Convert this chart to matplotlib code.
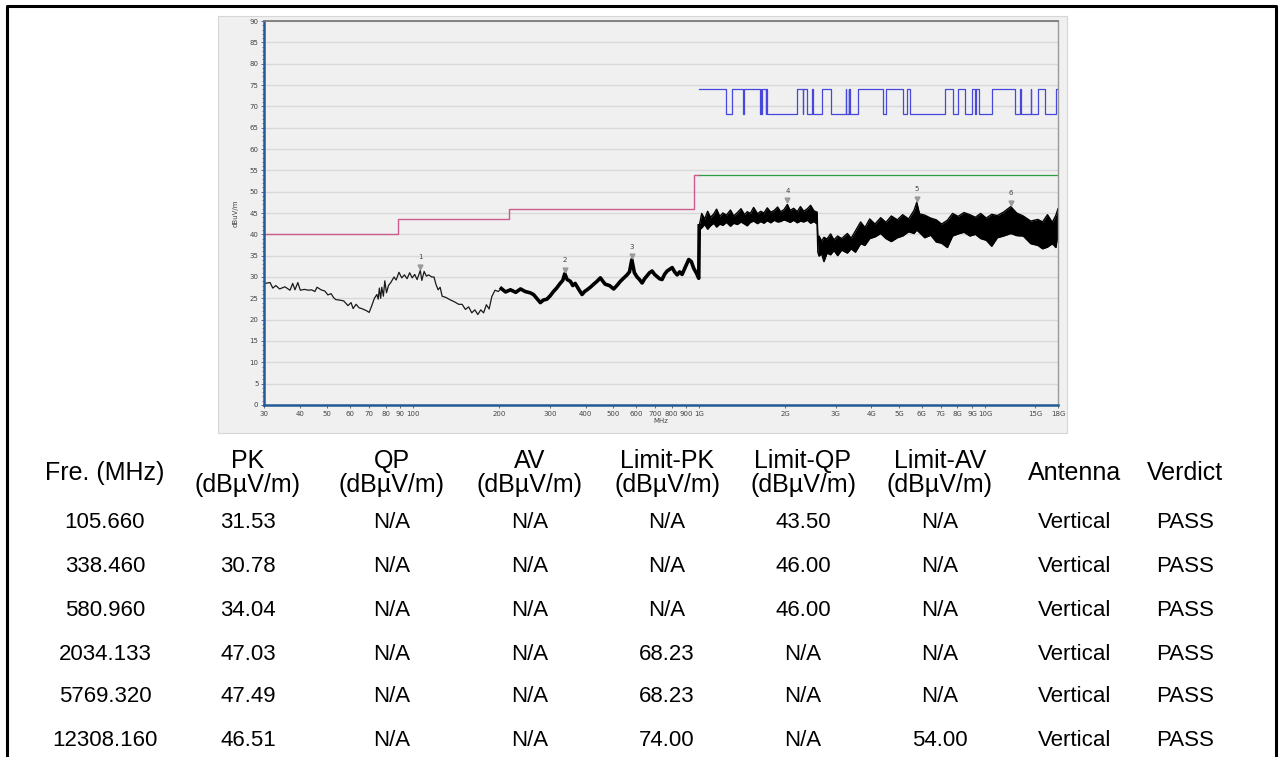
import matplotlib.pyplot as plt
from matplotlib.lines import Line2D
from matplotlib.patches import Rectangle

plt.rcParams['font.family'] = ['Liberation Sans', 'DejaVu Sans']

# --- measured trace below 1 GHz (MHz, dBuV/m)
lo_f = [30.2, 31.5, 32.2, 33.0, 34.0, 35.5, 37.0, 37.8, 38.5, 39.4, 40.2, 41.5, 43.0, 44.0,
        45.2, 46.0, 47.5, 49.0, 50.2, 51.5, 52.5, 53.5, 55.0, 57.0, 59.0, 60.5, 61.5, 63.0,
        64.5, 66.5, 68.5, 70.0, 71.5, 73.0, 74.5, 75.3, 76.0, 76.8, 77.5, 78.5, 79.4, 80.5,
        81.8, 83.5, 85.5, 87.0, 89.0, 91.0, 93.0, 95.0, 97.0, 99.0, 101.0, 103.0, 105.66,
        107.0, 109.0, 111.0, 113.0, 116.0, 118.0, 120.0, 122.0, 124.0, 126.0, 130.0, 134.0,
        139.0, 144.0, 148.0, 152.0, 156.0, 160.0, 164.0, 168.0, 172.0, 176.0, 180.0, 184.0,
        188.0, 193.0, 198.0, 203.0, 210.0, 218.5, 228.0, 237.0, 246.0, 256.0, 263.0, 270.0,
        278.0, 285.0, 293.0, 301.0, 309.0, 317.0, 326.0, 333.0, 338.46, 345.0, 354.0, 361.0,
        368.0, 378.0, 389.0, 397.0, 405.0, 416.0, 427.0, 439.0, 451.0, 460.0, 469.0, 485.0,
        502.0, 515.0, 530.0, 545.0, 559.0, 570.0, 580.96, 593.0, 606.0, 618.0, 631.0, 644.0,
        657.0, 670.0, 684.0, 698.0, 712.0, 726.0, 741.0, 756.0, 772.0, 788.0, 804.0, 820.0,
        837.0, 854.0, 871.0, 895.0, 919.0, 938.0, 957.0, 976.0, 996.0, 1000.0]
lo_v = [28.5, 28.7, 27.4, 28.0, 27.2, 27.7, 26.9, 28.5, 27.0, 28.7, 26.9, 27.1, 26.9, 27.0,
        26.6, 27.6, 27.0, 26.7, 25.8, 26.1, 25.2, 24.7, 24.6, 24.4, 23.3, 24.0, 22.6, 23.6,
        22.8, 22.5, 22.1, 21.7, 23.3, 25.0, 25.9, 24.8, 27.4, 25.0, 27.6, 25.5, 29.1, 26.3,
        28.0, 28.8, 30.0, 29.3, 31.1, 29.8, 30.5, 29.6, 31.0, 29.8, 30.6, 29.4, 31.53,
        29.2, 31.3, 30.2, 30.5, 30.0, 30.0, 28.2, 27.0, 27.6, 25.5, 25.2, 24.7,
        24.2, 23.6, 23.6, 22.4, 23.0, 21.6, 22.3, 21.2, 22.3, 21.6, 23.5, 22.5,
        25.4, 26.9, 26.6, 27.3, 26.5, 27.0, 26.4, 27.2, 26.6, 26.3, 25.9, 25.0,
        24.0, 24.6, 24.8, 25.6, 26.6, 27.4, 28.5, 29.2, 30.78, 29.4, 29.0, 28.0,
        28.5, 27.2, 25.9, 26.6, 27.0, 27.6, 28.3, 29.0, 29.8, 29.0, 28.3, 28.0,
        27.2, 28.0, 29.0, 29.8, 30.5, 31.2, 34.04, 31.0, 30.0, 29.4, 28.6, 29.6,
        30.3, 31.0, 31.4, 30.6, 30.1, 29.6, 29.4, 30.6, 31.4, 31.8, 32.2, 31.2,
        30.5, 31.2, 30.6, 32.4, 34.1, 33.6, 32.0, 31.0, 29.7, 42.0]

# --- measured trace above 1 GHz: envelope of the noise band
band_f = [1000, 1020, 1045, 1070, 1095, 1125, 1150, 1180, 1210, 1245, 1286, 1320, 1360, 1400,
          1440, 1472, 1510, 1550, 1600, 1640, 1684, 1730, 1780, 1830, 1880, 1926, 1980, 2034,
          2080, 2140, 2203, 2260, 2320, 2390, 2452, 2520, 2585, 2600, 2626, 2680, 2731, 2800,
          2881, 2960, 3050, 3150, 3298, 3400, 3520, 3670, 3800, 3950, 4120, 4314, 4500, 4700,
          4933, 5150, 5400, 5643, 5769, 5900, 6150, 6456, 6750, 7050, 7383, 7700, 8050, 8440,
          8850, 9250, 9655, 10100, 10550, 11043, 11600, 12308, 12900, 13600, 14455, 15300,
          15900, 16537, 17200, 17700, 18000]
band_hi = [42.0, 44.9, 43.6, 45.4, 44.0, 44.8, 45.9, 44.2, 45.0, 44.5, 45.7, 44.3, 45.1, 46.0,
           44.6, 45.3, 44.9, 46.3, 44.8, 45.4, 45.0, 46.2, 45.2, 45.6, 46.4, 45.3, 45.8, 47.0,
           45.6, 46.1, 45.3, 46.5, 45.4, 46.0, 46.8, 45.5, 45.2, 39.0, 39.6, 38.4, 39.3, 38.9,
           40.1, 38.7, 39.6, 39.0, 40.2, 39.1, 40.8, 42.9, 41.6, 43.6, 42.4, 43.9, 42.8, 44.3,
           43.4, 44.6, 43.6, 45.6, 47.5, 44.8, 44.5, 43.8, 43.4, 42.4, 43.3, 44.9, 44.2, 45.1,
           44.6, 44.0, 44.9, 43.8, 44.7, 44.4, 45.2, 46.5, 45.0, 44.3, 43.1, 43.5,
           42.9, 44.6, 42.8, 44.5, 46.0]
band_lo = [41.0, 41.5, 42.3, 41.2, 42.0, 42.6, 41.7, 42.4, 42.1, 42.8, 41.9, 42.6, 42.3, 42.9,
           42.4, 42.0, 42.8, 43.1, 42.5, 43.0, 42.6, 43.2, 42.7, 43.3, 42.9, 43.0, 43.4, 43.1,
           42.8, 43.3, 42.7, 43.1, 42.9, 43.3, 42.6, 43.0, 42.4, 35.8, 34.9, 35.4, 33.6, 35.6,
           35.2, 36.2, 35.0, 36.3, 35.6, 36.6, 35.8, 37.8, 37.4, 39.0, 39.4, 40.2, 39.0, 38.3,
           39.2, 39.6, 40.6, 40.2, 41.0, 40.4, 39.2, 39.8, 38.2, 37.9, 36.9, 39.6, 40.1, 40.5,
           39.6, 40.0, 39.0, 38.6, 37.2, 39.2, 39.6, 40.2, 39.7, 39.6, 37.8, 37.4,
           36.6, 37.0, 37.8, 36.9, 40.0]

# --- limits
qp_edges = [30, 88, 216, 960, 1000]
qp_levels = [40, 43.5, 46, 54]
av_edges = [1000, 18000]
av_levels = [54]
pk_edges = [1000, 1240, 1300, 1427, 1435, 1626.5, 1645.5, 1646.5, 1660, 1710, 1718.8, 1722.2,
            2200, 2300, 2310, 2390, 2483.5, 2500, 2690, 2900, 3260, 3267, 3332, 3339, 3345.8,
            3358, 3600, 4400, 4500, 5150, 5350, 5460, 7250, 7750, 8025, 8500, 9000, 9200,
            9300, 9500, 10600, 12700, 13250, 13400, 14470, 14500, 15350, 16200, 17700, 18000]
pk_levels = [74, 68.23, 74, 68.23, 74, 68.23, 74, 68.23, 74, 68.23, 74, 68.23,
             74, 68.23, 74, 68.23, 74, 68.23, 74, 68.23, 74, 68.23, 74, 68.23, 74,
             68.23, 74, 68.23, 74, 68.23, 74, 68.23, 74, 68.23, 74, 68.23, 74, 68.23,
             74, 68.23, 74, 68.23, 74, 68.23, 74, 68.23, 74, 68.23, 74]

# --- peaks
peak_f = [105.66, 338.46, 580.96, 2034.133, 5769.32, 12308.16]
peak_v = [31.53, 30.78, 34.04, 47.03, 47.49, 46.51]

# --- axis ticks
xtick_vals = [30, 40, 50, 60, 70, 80, 90, 100, 200, 300, 400, 500, 600, 700, 800, 900, 1000,
              2000, 3000, 4000, 5000, 6000, 7000, 8000, 9000, 10000, 15000, 18000]
xtick_labels = ['30', '40', '50', '60', '70', '80', '90', '100', '200', '300', '400', '500',
                '600', '700', '800', '900', '1G', '2G', '3G', '4G', '5G', '6G', '7G', '8G',
                '9G', '10G', '15G', '18G']

# --- result table
headers = ['Fre. (MHz)', 'PK\n(dBµV/m)', 'QP\n(dBµV/m)', 'AV\n(dBµV/m)', 'Limit-PK\n(dBµV/m)',
           'Limit-QP\n(dBµV/m)', 'Limit-AV\n(dBµV/m)', 'Antenna', 'Verdict']
col_fre = ['105.660', '338.460', '580.960', '2034.133', '5769.320', '12308.160']
col_pk = ['31.53', '30.78', '34.04', '47.03', '47.49', '46.51']
col_qp = ['N/A'] * 6
col_av = ['N/A'] * 6
col_lpk = ['N/A', 'N/A', 'N/A', '68.23', '68.23', '74.00']
col_lqp = ['43.50', '46.00', '46.00', 'N/A', 'N/A', 'N/A']
col_lav = ['N/A', 'N/A', 'N/A', 'N/A', 'N/A', '54.00']
col_ant = ['Vertical'] * 6
col_ver = ['PASS'] * 6

W, H = 1283, 757
fig = plt.figure(figsize=(W / 100, H / 100), dpi=100)
fig.patch.set_facecolor('white')

# grey panel behind the plot
fig.patches.append(Rectangle((218 / W, 1 - 433 / H), 849 / W, 417 / H, transform=fig.transFigure,
                             facecolor='#f0f0f0', edgecolor='#d6d6d6', lw=0.8, zorder=-5))
# outer frame
fig.lines.append(Line2D([7 / W, 7 / W, 1276 / W, 1276 / W], [0, 1 - 5.5 / H, 1 - 5.5 / H, 0],
                        transform=fig.transFigure, color='black', lw=2.2))

ax = fig.add_axes([264 / W, 1 - 405 / H, (1058 - 264) / W, (405 - 21) / H])
ax.set_zorder(2)
ax.set_axisbelow(True)
ax.set_facecolor('#f0f0f0')
ax.set_xscale('log')
ax.set_xlim(30, 18000)
ax.set_ylim(0, 90)

ax.set_yticks(range(0, 91, 5))
ax.set_yticks(range(0, 91, 1), minor=True)
ax.grid(True, axis='y', which='major', color='#d9d9d9', lw=1.0)
ax.set_xticks(xtick_vals)
ax.set_xticklabels(xtick_labels)
ax.xaxis.set_minor_locator(plt.NullLocator())
ax.tick_params(axis='both', labelsize=5, labelcolor='#444444', color='#555555', length=2.5,
               width=0.6, pad=1.5)
ax.tick_params(axis='y', which='minor', length=1.5, width=0.5, color='#2a5d98')
ax.tick_params(axis='y', which='major', color='#2a5d98')

for s in ['left', 'bottom']:
    ax.spines[s].set_color('#245a96')
    ax.spines[s].set_linewidth(1.8)
ax.spines['top'].set_color('#7a7a7a')
ax.spines['top'].set_linewidth(1.3)
ax.spines['right'].set_color('#9a9a9a')
ax.spines['right'].set_linewidth(1.0)

# limit lines
ax.step(qp_edges, qp_levels + [qp_levels[-1]], where='post', color='#cc5c8e', lw=1.0)
ax.step(av_edges, av_levels + [av_levels[-1]], where='post', color='#2e9e3e', lw=0.9)
ax.step(pk_edges, pk_levels + [pk_levels[-1]], where='post', color='#4848dc', lw=0.9)

# trace
ax.plot(lo_f, lo_v, color='#1a1a1a', lw=0.9)
hi_part = [i for i, f in enumerate(lo_f) if f >= 200]
ax.plot([lo_f[i] for i in hi_part], [lo_v[i] for i in hi_part], color='black', lw=2.6)
ax.fill_between(band_f, band_lo, band_hi, color='black', lw=0)
ax.plot(band_f, band_hi, color='black', lw=1.0)
ax.plot(band_f, band_lo, color='black', lw=1.0)

# peak markers
for i, (f, v) in enumerate(zip(peak_f, peak_v)):
    ax.plot(f, v + 0.9, marker='v', ms=3.5, color='#9a9a9a', mec='#9a9a9a')
    ax.text(f, v + 2.4, str(i + 1), fontsize=5, color='#444444', ha='center', va='bottom',
            family='DejaVu Sans')

ax.set_ylabel('dBuV/m', fontsize=5, color='#444444', labelpad=8, family='DejaVu Sans')
ax.set_xlabel('MHz', fontsize=5, color='#444444', labelpad=1, family='DejaVu Sans')
for lab in ax.get_xticklabels() + ax.get_yticklabels():
    lab.set_family('DejaVu Sans')

# table
col_x = [105, 248, 392, 530, 667, 803, 940, 1075, 1185]
columns = [col_fre, col_pk, col_qp, col_av, col_lpk, col_lqp, col_lav, col_ant, col_ver]
for x, h in zip(col_x, headers):
    fig.text(x / W, 1 - 473 / H, h, ha='center', va='center', fontsize=18, linespacing=1.05)
row_y = [523, 566, 610, 654, 697, 740]
for x, col in zip(col_x, columns):
    for y, val in zip(row_y, col):
        fig.text(x / W, 1 - y / H, val, ha='center', va='center', fontsize=16)

fig.savefig('out.png', dpi=100)
